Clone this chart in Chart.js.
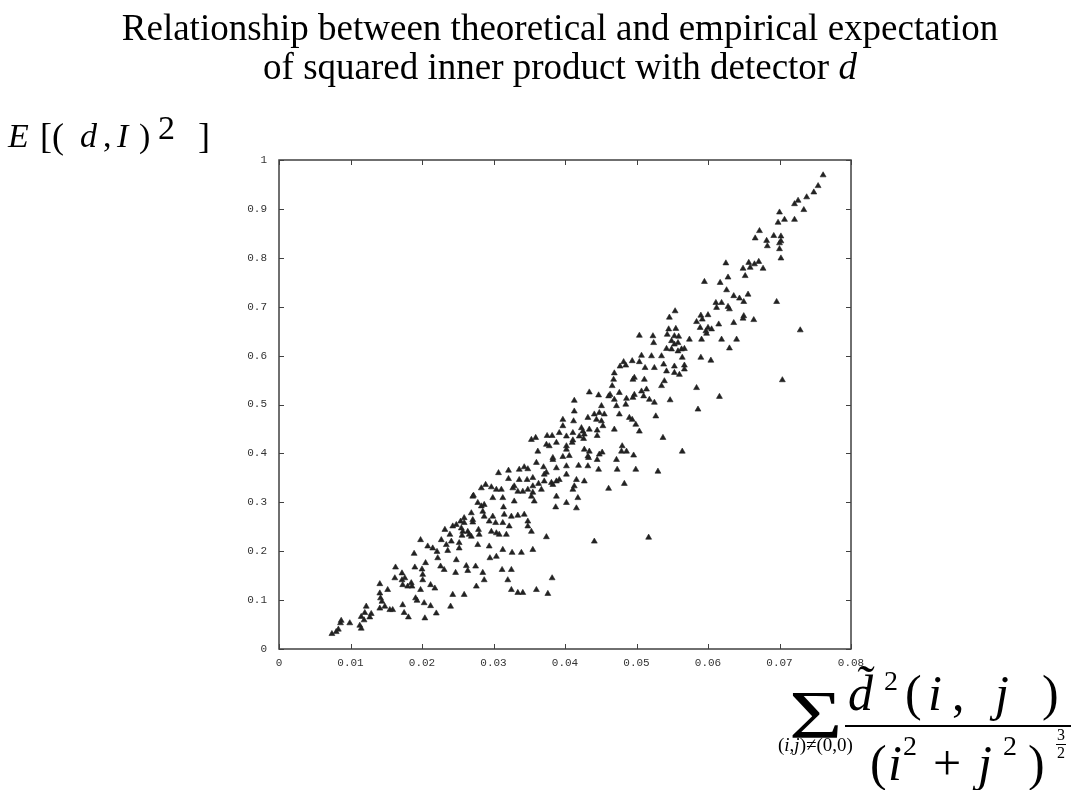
<!DOCTYPE html>
<html lang="en">
<head>
<meta charset="UTF-8" />
<title>Theoretical vs empirical expectation</title>
<script src="https://cdn.jsdelivr.net/npm/chart.js"></script>
<style>
  html, body { margin: 0; padding: 0; background: #fff; }
  #wrap {
    position: relative; width: 1073px; height: 790px; overflow: hidden;
    font-family: 'Liberation Serif', 'Times New Roman', serif; color: #000;
  }
  #chart { position: absolute; left: 0; top: 0; }
  .txt { position: absolute; white-space: nowrap; line-height: 1; }
  .title { left: 0; width: 1120px; text-align: center; font-size: 37px; }
  .it { font-style: italic; }
</style>
</head>
<body>
<div id="wrap">
  <canvas id="chart" width="1073" height="790"></canvas>

  <div class="txt title" style="top:9px;">Relationship between theoretical and empirical expectation</div>
  <div class="txt title" style="top:48px;">of squared inner product with detector <i>d</i></div>

  <!-- y axis label: E[(d, I)^2] -->
  <div class="txt it" style="left:8px; top:119px; font-size:34px;">E</div>
  <div class="txt" style="left:40px; top:118px; font-size:36px;">[(</div>
  <div class="txt it" style="left:80px; top:119px; font-size:34px;">d</div>
  <div class="txt" style="left:103px; top:119px; font-size:34px;">,</div>
  <div class="txt it" style="left:117px; top:119px; font-size:34px;">I</div>
  <div class="txt" style="left:139px; top:119px; font-size:34px;">)</div>
  <div class="txt" style="left:158px; top:111px; font-size:34px;">2</div>
  <div class="txt" style="left:198px; top:118px; font-size:36px;">]</div>

  <!-- x axis label: the sum formula -->
  <div class="txt" style="left:789px; top:680px; font-size:68px; transform:scaleX(1.35); transform-origin:left;">Σ</div>
  <div class="txt" style="left:778px; top:735px; font-size:19px;">(<i>i</i>,<i>j</i>)≠(0,0)</div>

  <div class="txt it" style="left:848px; top:668px; font-size:50px;">d&#771;</div>
  <div class="txt" style="left:884px; top:667px; font-size:28px;">2</div>
  <div class="txt" style="left:905px; top:668px; font-size:50px;">(</div>
  <div class="txt it" style="left:928px; top:668px; font-size:50px;">i</div>
  <div class="txt" style="left:952px; top:668px; font-size:50px;">,</div>
  <div class="txt it" style="left:995px; top:668px; font-size:50px;">j</div>
  <div class="txt" style="left:1042px; top:668px; font-size:50px;">)</div>

  <div style="position:absolute; left:845px; top:725px; width:226px; height:2px; background:#000;"></div>

  <div class="txt" style="left:870px; top:738px; font-size:50px;">(</div>
  <div class="txt it" style="left:888px; top:738px; font-size:50px;">i</div>
  <div class="txt" style="left:903px; top:732px; font-size:28px;">2</div>
  <div class="txt" style="left:933px; top:738px; font-size:50px;">+</div>
  <div class="txt it" style="left:978px; top:738px; font-size:50px;">j</div>
  <div class="txt" style="left:1003px; top:732px; font-size:28px;">2</div>
  <div class="txt" style="left:1028px; top:738px; font-size:50px;">)</div>
  <div class="txt" style="left:1056px; top:727px; font-size:16px; text-align:center; line-height:1.05;">3<span style="display:block; border-top:1px solid #000; width:10px;"></span>2</div>
</div>

<script>
// tick values and their labels
const xTickValues = [0, 0.01, 0.02, 0.03, 0.04, 0.05, 0.06, 0.07, 0.08];
const xTickLabels = ['0', '0.01', '0.02', '0.03', '0.04', '0.05', '0.06', '0.07', '0.08'];
const yTickValues = [0, 0.1, 0.2, 0.3, 0.4, 0.5, 0.6, 0.7, 0.8, 0.9, 1];
const yTickLabels = ['0', '0.1', '0.2', '0.3', '0.4', '0.5', '0.6', '0.7', '0.8', '0.9', '1'];

// theoretical value (sum over the detector) for each sample
const theoreticalX = [
  0.0074, 0.0080, 0.0083, 0.0086, 0.0087, 0.0099, 0.0113, 0.0115, 0.0115, 0.0119,
  0.0120, 0.0122, 0.0127, 0.0129, 0.0141, 0.0141, 0.0142, 0.0144, 0.0141, 0.0148,
  0.0152, 0.0155, 0.0159, 0.0162, 0.0163, 0.0172, 0.0172, 0.0173, 0.0176, 0.0180,
  0.0185, 0.0186, 0.0173, 0.0175, 0.0181, 0.0189, 0.0190, 0.0191, 0.0193, 0.0198,
  0.0198, 0.0200, 0.0201, 0.0203, 0.0204, 0.0201, 0.0205, 0.0208, 0.0212, 0.0212,
  0.0218, 0.0220, 0.0215, 0.0221, 0.0222, 0.0227, 0.0226, 0.0231, 0.0232, 0.0234,
  0.0236, 0.0239, 0.0240, 0.0243, 0.0241, 0.0247, 0.0248, 0.0252, 0.0252, 0.0254,
  0.0255, 0.0256, 0.0259, 0.0259, 0.0262, 0.0264, 0.0264, 0.0269, 0.0271, 0.0271,
  0.0275, 0.0276, 0.0278, 0.0285, 0.0287, 0.0294, 0.0295, 0.0304, 0.0312, 0.0313,
  0.0320, 0.0325, 0.0325, 0.0326, 0.0334, 0.0339, 0.0341, 0.0355, 0.0360, 0.0376,
  0.0382,
  0.0397, 0.0397, 0.0392, 0.0402, 0.0375, 0.0382, 0.0359, 0.0353, 0.0374, 0.0378,
  0.0388, 0.0402, 0.0402, 0.0362, 0.0383, 0.0383, 0.0397, 0.0360, 0.0370, 0.0388,
  0.0402, 0.0343, 0.0348, 0.0336, 0.0321, 0.0307, 0.0321, 0.0336, 0.0347, 0.0355,
  0.0371, 0.0374, 0.0402, 0.0392, 0.0355, 0.0363, 0.0371, 0.0381, 0.0383, 0.0388,
  0.0289, 0.0283, 0.0297, 0.0304, 0.0311, 0.0327, 0.0329, 0.0334, 0.0341, 0.0348,
  0.0355, 0.0367, 0.0272, 0.0299, 0.0313, 0.0329, 0.0353, 0.0357, 0.0388, 0.0278,
  0.0283, 0.0287, 0.0285, 0.0314, 0.0387, 0.0402, 0.0315, 0.0325, 0.0334, 0.0343,
  0.0348, 0.0348, 0.0299, 0.0287, 0.0269, 0.0248, 0.0259, 0.0243, 0.0271, 0.0294,
  0.0303, 0.0313, 0.0322, 0.0297, 0.0304, 0.0308, 0.0257, 0.0266, 0.0279, 0.0280,
  0.0318, 0.0353, 0.0374,
  0.0546, 0.0545, 0.0543, 0.0542, 0.0523, 0.0524, 0.0504, 0.0535, 0.0521, 0.0507,
  0.0504, 0.0494, 0.0482, 0.0477, 0.0485, 0.0512, 0.0525, 0.0538, 0.0542, 0.0539,
  0.0535, 0.0497, 0.0495, 0.0511, 0.0469, 0.0468, 0.0466, 0.0476, 0.0463, 0.0514,
  0.0507, 0.0510, 0.0497, 0.0495, 0.0486, 0.0518, 0.0525, 0.0434, 0.0447, 0.0451,
  0.0461, 0.0469, 0.0472, 0.0485, 0.0476, 0.0490, 0.0494, 0.0499, 0.0504, 0.0527,
  0.0413, 0.0413, 0.0412, 0.0432, 0.0441, 0.0448, 0.0455, 0.0444, 0.0451, 0.0453,
  0.0469, 0.0411, 0.0423, 0.0425, 0.0427, 0.0434, 0.0445, 0.0445, 0.0420, 0.0411,
  0.0448, 0.0452, 0.0480, 0.0479, 0.0486, 0.0496, 0.0537, 0.0432, 0.0406,
  0.0419, 0.0432, 0.0447, 0.0473, 0.0499, 0.0410, 0.0416, 0.0418, 0.0413, 0.0416,
  0.0411, 0.0427, 0.0433, 0.0427, 0.0434, 0.0426, 0.0445, 0.0461, 0.0472, 0.0483,
  0.0530, 0.0547, 0.0564, 0.0586, 0.0441, 0.0517, 0.0616,
  0.0672, 0.0666, 0.0682, 0.0683, 0.0625, 0.0657, 0.0665, 0.0671, 0.0649, 0.0659,
  0.0677, 0.0652, 0.0628, 0.0595, 0.0617, 0.0626, 0.0636, 0.0644, 0.0650, 0.0656,
  0.0611, 0.0619, 0.0612, 0.0628, 0.0630, 0.0554, 0.0590, 0.0600, 0.0592, 0.0584,
  0.0589, 0.0600, 0.0605, 0.0597, 0.0598, 0.0615, 0.0650, 0.0649, 0.0636, 0.0664,
  0.0555, 0.0553, 0.0559, 0.0549, 0.0574, 0.0591, 0.0619, 0.0640, 0.0553, 0.0558,
  0.0549, 0.0558, 0.0563, 0.0567, 0.0630, 0.0564, 0.0590, 0.0604, 0.0553, 0.0567,
  0.0567, 0.0553, 0.0560, 0.0584,
  0.0761, 0.0754, 0.0748, 0.0738, 0.0726, 0.0721, 0.0734, 0.0700, 0.0707, 0.0698,
  0.0721, 0.0692, 0.0702, 0.0702, 0.0700, 0.0700, 0.0702, 0.0696, 0.0729, 0.0704
];

// empirical E[(d,I)^2] for the same samples
const empiricalY = [
  0.031, 0.035, 0.040, 0.053, 0.058, 0.053, 0.048, 0.042, 0.066, 0.059,
  0.074, 0.087, 0.065, 0.072, 0.133, 0.114, 0.104, 0.097, 0.083, 0.087,
  0.121, 0.080, 0.080, 0.145, 0.167, 0.155, 0.141, 0.131, 0.145, 0.128,
  0.135, 0.128, 0.090, 0.074, 0.065, 0.195, 0.167, 0.104, 0.099, 0.121,
  0.223, 0.163, 0.152, 0.094, 0.063, 0.141, 0.176, 0.210, 0.088, 0.131,
  0.124, 0.073, 0.206, 0.199, 0.186, 0.223, 0.169, 0.162, 0.244, 0.213,
  0.201, 0.234, 0.087, 0.111, 0.220, 0.156, 0.182, 0.206, 0.217, 0.261,
  0.247, 0.232, 0.268, 0.111, 0.170, 0.160, 0.240, 0.230, 0.312, 0.264,
  0.169, 0.128, 0.213, 0.156, 0.141, 0.210, 0.186, 0.189, 0.162, 0.203,
  0.141, 0.162, 0.121, 0.197, 0.115, 0.197, 0.115, 0.203, 0.121, 0.113,
  0.145,
  0.469, 0.456, 0.442, 0.435, 0.436, 0.436, 0.432, 0.428, 0.418, 0.415,
  0.422, 0.415, 0.408, 0.404, 0.391, 0.387, 0.393, 0.381, 0.372, 0.370,
  0.374, 0.372, 0.368, 0.367, 0.365, 0.360, 0.348, 0.346, 0.346, 0.350,
  0.357, 0.361, 0.357, 0.346, 0.333, 0.338, 0.343, 0.340, 0.336, 0.343,
  0.336, 0.329, 0.331, 0.326, 0.326, 0.329, 0.333, 0.322, 0.322, 0.326,
  0.320, 0.326, 0.314, 0.309, 0.309, 0.302, 0.312, 0.302, 0.312, 0.299,
  0.292, 0.295, 0.281, 0.290, 0.290, 0.299, 0.275, 0.271, 0.273, 0.275,
  0.261, 0.251, 0.271, 0.271, 0.278, 0.254, 0.258, 0.251, 0.259, 0.261,
  0.258, 0.258, 0.251, 0.240, 0.237, 0.234, 0.240, 0.234, 0.244, 0.234,
  0.234, 0.240, 0.229,
  0.678, 0.654, 0.643, 0.614, 0.640, 0.626, 0.641, 0.599, 0.599, 0.600,
  0.587, 0.589, 0.587, 0.578, 0.580, 0.575, 0.575, 0.582, 0.568, 0.548,
  0.538, 0.555, 0.551, 0.551, 0.564, 0.551, 0.538, 0.524, 0.520, 0.531,
  0.527, 0.517, 0.520, 0.514, 0.512, 0.510, 0.504, 0.525, 0.519, 0.497,
  0.517, 0.510, 0.497, 0.500, 0.480, 0.473, 0.469, 0.459, 0.445, 0.476,
  0.508, 0.486, 0.466, 0.473, 0.480, 0.483, 0.480, 0.469, 0.466, 0.456,
  0.449, 0.442, 0.452, 0.445, 0.439, 0.449, 0.447, 0.436, 0.435, 0.427,
  0.398, 0.402, 0.415, 0.404, 0.404, 0.396, 0.432, 0.394, 0.395,
  0.375, 0.374, 0.367, 0.367, 0.367, 0.422, 0.288, 0.309, 0.333, 0.346,
  0.326, 0.343, 0.391, 0.408, 0.404, 0.430, 0.387, 0.328, 0.387, 0.338,
  0.363, 0.509, 0.404, 0.490, 0.220, 0.228, 0.516,
  0.855, 0.840, 0.835, 0.824, 0.789, 0.790, 0.787, 0.792, 0.778, 0.780,
  0.778, 0.763, 0.760, 0.751, 0.749, 0.734, 0.722, 0.717, 0.710, 0.725,
  0.708, 0.708, 0.698, 0.700, 0.695, 0.691, 0.682, 0.683, 0.674, 0.669,
  0.657, 0.657, 0.654, 0.650, 0.645, 0.664, 0.681, 0.676, 0.667, 0.673,
  0.655, 0.640, 0.639, 0.630, 0.633, 0.633, 0.633, 0.633, 0.623, 0.626,
  0.613, 0.609, 0.613, 0.614, 0.615, 0.596, 0.596, 0.590, 0.578, 0.580,
  0.572, 0.565, 0.561, 0.534,
  0.969, 0.947, 0.934, 0.924, 0.917, 0.910, 0.898, 0.893, 0.878, 0.872,
  0.878, 0.845, 0.844, 0.834, 0.830, 0.818, 0.799, 0.710, 0.652, 0.550
];

if (theoreticalX.length !== empiricalY.length) {
  console.warn('length mismatch', theoreticalX.length, empiricalY.length);
}

const points = theoreticalX.map((x, i) => ({ x: x, y: empiricalY[i] }));

const tickFont = { family: "'Liberation Mono', 'DejaVu Sans Mono', monospace", size: 11 };

// box frame plus short inward tick marks on all four sides
const frameTicks = {
  id: 'frameTicks',
  afterDraw(chart) {
    const { ctx, chartArea: a, scales } = chart;
    ctx.save();
    ctx.strokeStyle = '#404040';
    ctx.lineWidth = 1.5;
    ctx.strokeRect(a.left, a.top, a.right - a.left, a.bottom - a.top);
    ctx.lineWidth = 1;
    ctx.beginPath();
    xTickValues.forEach(v => {
      const px = Math.round(scales.x.getPixelForValue(v)) + 0.5;
      ctx.moveTo(px, a.bottom); ctx.lineTo(px, a.bottom - 5);
      ctx.moveTo(px, a.top); ctx.lineTo(px, a.top + 5);
    });
    yTickValues.forEach(v => {
      const py = Math.round(scales.y.getPixelForValue(v)) + 0.5;
      ctx.moveTo(a.left, py); ctx.lineTo(a.left + 5, py);
      ctx.moveTo(a.right, py); ctx.lineTo(a.right - 5, py);
    });
    ctx.stroke();
    ctx.restore();
  }
};

new Chart(document.getElementById('chart'), {
  type: 'scatter',
  data: {
    datasets: [{
      data: points,
      pointStyle: 'triangle',
      pointRadius: 3.4,
      backgroundColor: '#222',
      borderColor: '#222',
      borderWidth: 0.6
    }]
  },
  options: {
    responsive: false,
    devicePixelRatio: 1,
    animation: false,
    layout: { padding: { top: 160, right: 222, left: 0, bottom: 0 } },
    plugins: { legend: { display: false }, tooltip: { enabled: false } },
    scales: {
      x: {
        type: 'linear', min: 0, max: 0.08,
        afterBuildTicks: s => { s.ticks = xTickValues.map(v => ({ value: v })); },
        afterFit: s => { s.height = 141; },
        ticks: {
          callback: (v, i) => xTickLabels[i],
          font: tickFont, color: '#333', padding: 7,
          maxRotation: 0, autoSkip: false
        },
        grid: { display: false, drawTicks: false },
        border: { display: false }
      },
      y: {
        type: 'linear', min: 0, max: 1,
        afterBuildTicks: s => { s.ticks = yTickValues.map(v => ({ value: v })); },
        afterFit: s => { s.width = 279; },
        ticks: {
          callback: (v, i) => yTickLabels[i],
          font: tickFont, color: '#333', padding: 12, autoSkip: false
        },
        grid: { display: false, drawTicks: false },
        border: { display: false }
      }
    }
  },
  plugins: [frameTicks]
});
</script>
</body>
</html>
